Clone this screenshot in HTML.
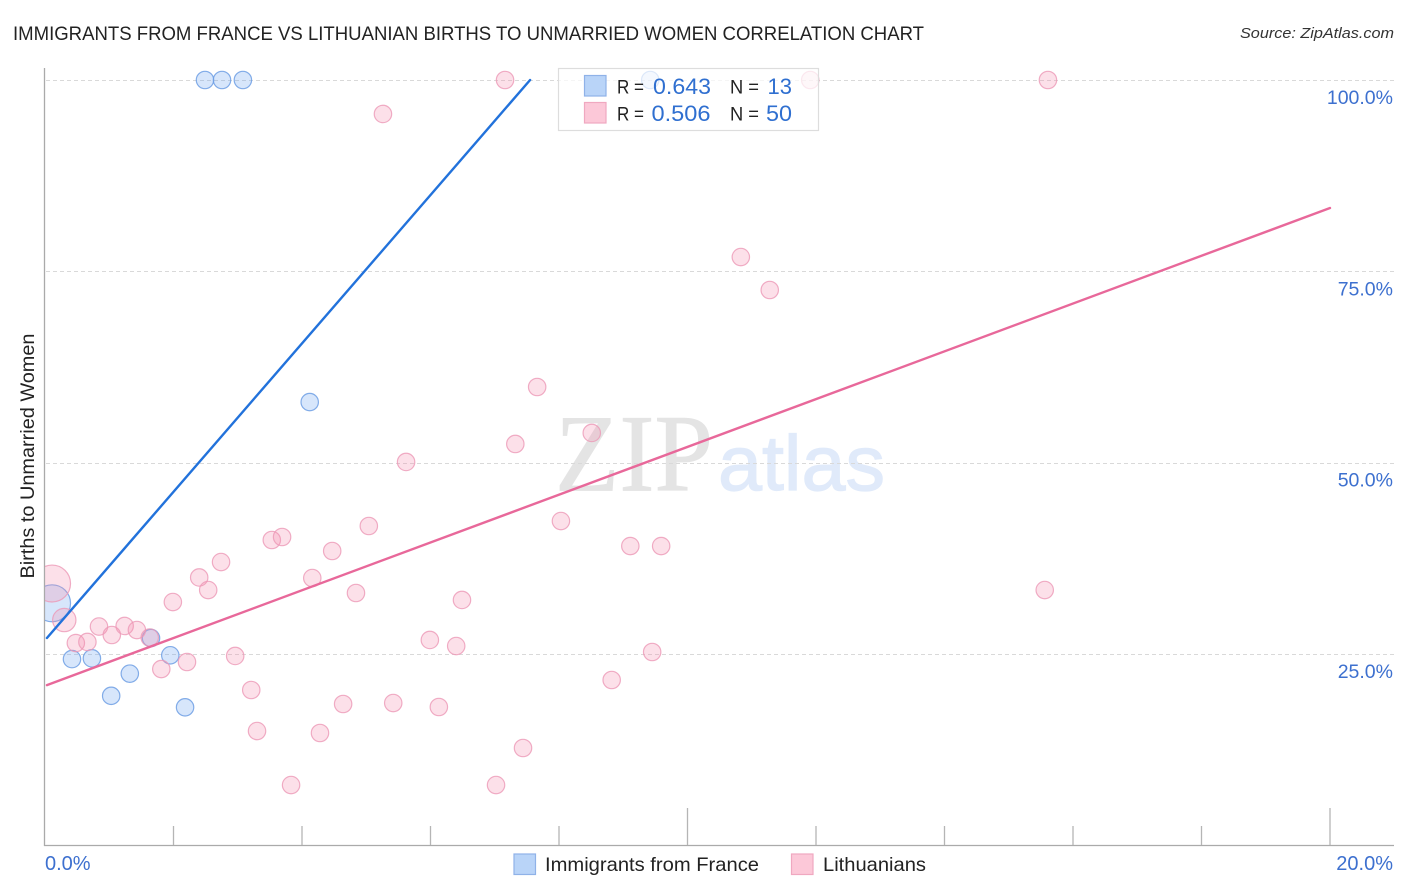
<!DOCTYPE html>
<html lang="en">
<head>
<meta charset="utf-8">
<title>Immigrants from France vs Lithuanian Births to Unmarried Women Correlation Chart</title>
<style>
html,body{margin:0;padding:0;background:#fff;width:1406px;height:892px;overflow:hidden}
svg{display:block}
text{font-family:"Liberation Sans",sans-serif}
</style>
</head>
<body>
<svg id="chart" xmlns="http://www.w3.org/2000/svg" width="1406" height="892" viewBox="0 0 1406 892">
  <defs>
    <clipPath id="plot-clip"><rect x="45" y="60" width="1349" height="785"/></clipPath>
  </defs>
  <rect x="0" y="0" width="1406" height="892" fill="#fff"/>
  <text x="13" y="40" font-size="19.5" fill="#222" textLength="911" lengthAdjust="spacingAndGlyphs">IMMIGRANTS FROM FRANCE VS LITHUANIAN BIRTHS TO UNMARRIED WOMEN CORRELATION CHART</text>
  <text x="1394" y="38" font-size="15" font-style="italic" fill="#333" text-anchor="end" textLength="154" lengthAdjust="spacingAndGlyphs">Source: ZipAtlas.com</text>
  <text x="555" y="490.5" font-size="110" fill="#e4e4e4" stroke="#e4e4e4" stroke-width="0.8" style="font-family:'Liberation Serif',serif" textLength="158" lengthAdjust="spacingAndGlyphs">ZIP</text>
  <text x="718" y="490" font-size="78" fill="#e0eafa" stroke="#e0eafa" stroke-width="1.2" textLength="167" lengthAdjust="spacingAndGlyphs">atlas</text>
  <g id="grid"></g>
  <g id="axes">
    <line x1="44.5" y1="68" x2="44.5" y2="846" stroke="#aaa" stroke-width="1.3"/>
    <line x1="44" y1="845.5" x2="1394" y2="845.5" stroke="#aaa" stroke-width="1.3"/>
  </g>
  <g id="x-ticks"></g>
  <g id="y-tick-labels"></g>
  <g id="x-tick-labels"></g>
  <text transform="translate(34 578.5) rotate(-90)" font-size="19" fill="#222" textLength="245" lengthAdjust="spacingAndGlyphs">Births to Unmarried Women</text>
  <g id="france-points" clip-path="url(#plot-clip)"></g>
  <g id="lithuanian-points" clip-path="url(#plot-clip)"></g>
  <line id="france-trend" stroke="#2272db" stroke-width="2.4" stroke-linecap="round"/>
  <line id="lithuanian-trend" stroke="#e8689a" stroke-width="2.4" stroke-linecap="round"/>

  <g>
    <rect x="558.5" y="68.5" width="260" height="62" fill="#fff" fill-opacity="0.72" stroke="#ddd" stroke-width="1.2"/>
    <rect x="584.5" y="75.5" width="21.5" height="20.5" fill="#b9d4f8" stroke="#8fb2e8" stroke-width="1.2"/>
    <rect x="584.5" y="102.5" width="21.5" height="20.5" fill="#fcc8d8" stroke="#f0a8c0" stroke-width="1.2"/>
    <text x="617" y="93.5" font-size="19" fill="#222" textLength="27" lengthAdjust="spacingAndGlyphs">R =</text>
    <text x="653" y="94" font-size="22" fill="#2f6fd0" textLength="58" lengthAdjust="spacingAndGlyphs">0.643</text>
    <text x="730" y="93.5" font-size="19" fill="#222" textLength="29" lengthAdjust="spacingAndGlyphs">N =</text>
    <text x="792" y="94" font-size="22" fill="#2f6fd0" text-anchor="end">13</text>
    <text x="617" y="120.5" font-size="19" fill="#222" textLength="27" lengthAdjust="spacingAndGlyphs">R =</text>
    <text x="651.5" y="121" font-size="22" fill="#2f6fd0" textLength="59" lengthAdjust="spacingAndGlyphs">0.506</text>
    <text x="730" y="120.5" font-size="19" fill="#222" textLength="29" lengthAdjust="spacingAndGlyphs">N =</text>
    <text x="766" y="121" font-size="22" fill="#2f6fd0" textLength="26" lengthAdjust="spacingAndGlyphs">50</text>
  </g>

  <g>
    <rect x="514" y="854" width="21.5" height="20.5" fill="#b9d4f8" stroke="#8fb2e8" stroke-width="1.2"/>
    <text x="545" y="871" font-size="19.5" fill="#222" textLength="214" lengthAdjust="spacingAndGlyphs">Immigrants from France</text>
    <rect x="791.5" y="854" width="21.5" height="20.5" fill="#fcc8d8" stroke="#f0a8c0" stroke-width="1.2"/>
    <text x="823" y="871" font-size="19.5" fill="#222" textLength="103" lengthAdjust="spacingAndGlyphs">Lithuanians</text>
  </g>
</svg>
<script>
const xTickValues = [2, 4, 6, 8, 10, 12, 14, 16, 18, 20];
const xMajorTicks = [10, 20];
const xLabelValues = [0, 20];
const yTickValues = [25, 50, 75, 100];

const franceX = [2.49, 2.755, 3.08, 9.42, 4.12, 0.11, 0.42, 0.73, 1.32, 1.03, 1.65, 1.95, 2.18];
const franceY = [100, 100, 100, 100, 57.9, 31.6, 24.3, 24.4, 22.4, 19.5, 27.05, 24.8, 18.0];
const franceWeight = [1, 1, 1, 1, 1, 4.5, 1, 1, 1, 1, 1, 1, 1];

const lithuanianX = [7.16, 11.91, 15.61, 5.26, 10.83, 11.28, 7.66, 7.32, 8.51, 5.62, 8.03, 5.04, 3.53, 3.69, 9.11, 9.59, 4.47, 2.74, 2.40, 4.16, 15.56, 2.54, 4.84, 1.99, 6.49, 0.11, 0.30, 0.48, 0.66, 0.84, 1.04, 1.24, 1.43, 1.63, 5.99, 6.40, 9.45, 2.96, 2.21, 1.81, 8.82, 3.21, 4.64, 5.42, 6.13, 3.30, 4.28, 7.44, 3.83, 7.02];
const lithuanianY = [100, 100, 100, 95.56, 76.86, 72.55, 59.87, 52.42, 53.86, 50.07, 42.35, 41.7, 39.87, 40.26, 39.08, 39.08, 38.43, 36.99, 34.97, 34.9, 33.33, 33.33, 32.94, 31.76, 32.03, 34.18, 29.41, 26.4, 26.54, 28.56, 27.45, 28.63, 28.1, 27.12, 26.8, 26.01, 25.23, 24.71, 23.92, 23.0, 21.57, 20.26, 18.43, 18.56, 18.04, 14.9, 14.64, 12.68, 7.84, 7.84];
const lithuanianWeight = [1, 1, 1, 1, 1, 1, 1, 1, 1, 1, 1, 1, 1, 1, 1, 1, 1, 1, 1, 1, 1, 1, 1, 1, 1, 4.5, 1.8, 1, 1, 1, 1, 1, 1, 1, 1, 1, 1, 1, 1, 1, 1, 1, 1, 1, 1, 1, 1, 1, 1, 1];

const franceTrendX = [0.03, 7.55];
const franceTrendY = [27.06, 100];
const lithuanianTrendX = [0.03, 20];
const lithuanianTrendY = [20.9, 83.27];

const NS = 'http://www.w3.org/2000/svg';
const xScale = v => 45 + v * 64.25;
const yScale = v => 845 - v * 7.65;
const rScale = w => 8.7 * Math.sqrt(w);

function make(tag, attrs, parent) {
  const el = document.createElementNS(NS, tag);
  for (const k in attrs) el.setAttribute(k, attrs[k]);
  parent.appendChild(el);
  return el;
}

const gridG = document.getElementById('grid');
yTickValues.forEach(v => {
  const el = make('line', {x1: 46, x2: 1394, y1: Math.round(yScale(v)) + 0.5, y2: Math.round(yScale(v)) + 0.5, stroke: '#d9d9d9', 'stroke-width': 1, 'stroke-dasharray': '4 3'}, gridG);
  
  
});

const xTickG = document.getElementById('x-ticks');
xTickValues.forEach(v => {
  const top = xMajorTicks.includes(v) ? 808 : 826;
  const el = make('line', {x1: xScale(v), x2: xScale(v), y1: top, y2: 845, stroke: '#b5b5b5', 'stroke-width': 1.3}, xTickG);
  
  
});

const yLabelG = document.getElementById('y-tick-labels');
yTickValues.forEach(v => {
  const el = make('text', {x: 1393, y: yScale(v) + 24, 'font-size': 19.5, fill: '#3d70cf', 'text-anchor': 'end'}, yLabelG);
  
  
  el.textContent = v.toFixed(1) + '%';
});

const xLabelG = document.getElementById('x-tick-labels');
xLabelValues.forEach((v, i) => {
  const el = make('text', {x: i === 0 ? 45 : 1393, y: 870, 'font-size': 20, fill: '#3d70cf', 'text-anchor': i === 0 ? 'start' : 'end'}, xLabelG);
  
  
  el.textContent = v.toFixed(1) + '%';
});

const franceG = document.getElementById('france-points');
franceX.forEach((x, i) => {
  const el = make('circle', {cx: xScale(x), cy: yScale(franceY[i]), r: rScale(franceWeight[i]), fill: '#6ea5f0', 'fill-opacity': 0.28, stroke: '#6f9fe4', 'stroke-opacity': 0.85, 'stroke-width': 1.2}, franceG);
  
  
});

const lithuanianG = document.getElementById('lithuanian-points');
lithuanianX.forEach((x, i) => {
  const el = make('circle', {cx: xScale(x), cy: yScale(lithuanianY[i]), r: rScale(lithuanianWeight[i]), fill: '#f590b0', 'fill-opacity': 0.28, stroke: '#ec98b6', 'stroke-opacity': 0.8, 'stroke-width': 1.2}, lithuanianG);
  
  
});

const fLine = document.getElementById('france-trend');
fLine.setAttribute('x1', xScale(franceTrendX[0]));
fLine.setAttribute('x2', xScale(franceTrendX[1]));
fLine.setAttribute('y1', yScale(franceTrendY[0]));
fLine.setAttribute('y2', yScale(franceTrendY[1]));

const lLine = document.getElementById('lithuanian-trend');
lLine.setAttribute('x1', xScale(lithuanianTrendX[0]));
lLine.setAttribute('x2', xScale(lithuanianTrendX[1]));
lLine.setAttribute('y1', yScale(lithuanianTrendY[0]));
lLine.setAttribute('y2', yScale(lithuanianTrendY[1]));
</script>
</body>
</html>
